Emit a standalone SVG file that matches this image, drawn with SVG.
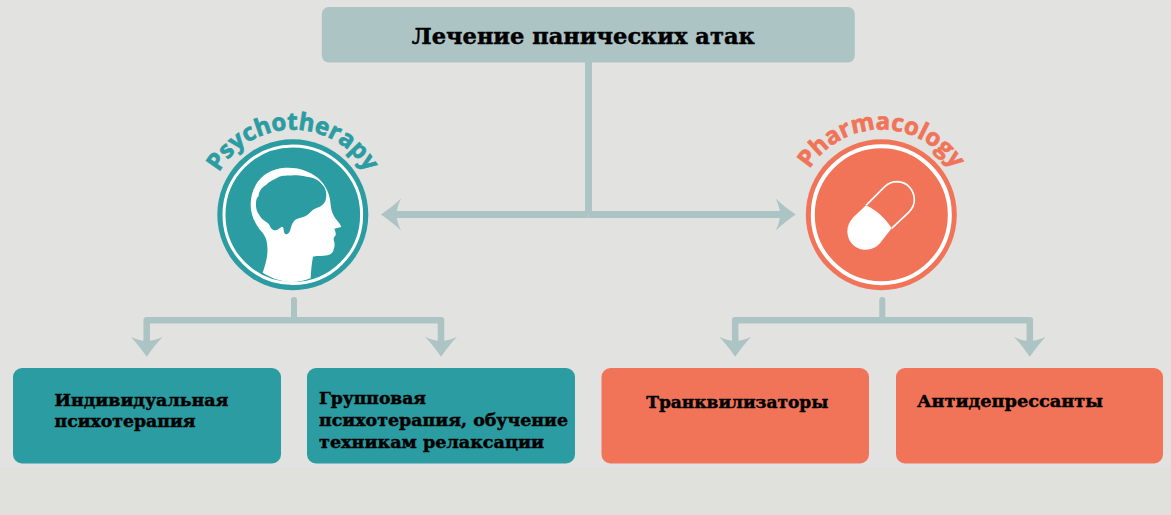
<svg xmlns="http://www.w3.org/2000/svg" width="1171" height="515" viewBox="0 0 1171 515">
<style>
.t{font-family:"DejaVu Serif","Liberation Serif",serif;font-weight:700;fill:#000;stroke:#000;stroke-width:.45px}
.l{font-family:"Open Sans","Liberation Sans",sans-serif;font-weight:700;font-size:24px;stroke-width:.7px}
.c{fill:none;stroke:#adc4c4;stroke-linejoin:round}
.teal{fill:#2a9ca2}.coral{fill:#f17459}
.lt{stroke:#2a9ca2}.lc{stroke:#f17459}
.w{fill:#fff}
</style>
<defs>
<marker id="arrow" markerUnits="userSpaceOnUse" markerWidth="22" markerHeight="34" refX="6" refY="16" orient="auto" overflow="visible">
<path d="M20 16C13 11 6 6 0 0C2 4 4 9 4.500 16C4 23 2 28 0 32C6 26 13 21 20 16Z" fill="#adc4c4"/>
</marker>
<path id="arcL" d="M207.800 214.700A85 85 0 0 1 377.800 214.700"/>
<path id="arcR" d="M796.300 214.700A85 85 0 0 1 966.300 214.700"/>
</defs>
<rect width="1171" height="515" fill="#e2e2e0"/>
<rect y="468" width="1171" height="47" fill="#e0e0dc"/>
<g id="connectors">
<path class="c" stroke-width="7" d="M588.500 60V214.500"/>
<path class="c" stroke-width="7" d="M588.500 214.500H395" marker-end="url(#arrow)"/>
<path class="c" stroke-width="7" d="M588.500 214.500H781.700" marker-end="url(#arrow)"/>
<path class="c" stroke-width="6" stroke-linecap="round" d="M294 300V320"/>
<path class="c" stroke-width="6.500" d="M294 320.300H146.700V342.700" marker-end="url(#arrow)"/>
<path class="c" stroke-width="6.500" d="M294 320.300H441V342.700" marker-end="url(#arrow)"/>
<path class="c" stroke-width="6" stroke-linecap="round" d="M882.300 300V320"/>
<path class="c" stroke-width="6.500" d="M882.300 320.300H735.200V342.700" marker-end="url(#arrow)"/>
<path class="c" stroke-width="6.500" d="M882.300 320.300H1029.800V342.700" marker-end="url(#arrow)"/>
</g>
<g id="root">
<rect x="321.800" y="7" width="533" height="55.500" rx="7" fill="#adc4c4"/>
<text class="t" x="411.800" y="43.500" font-size="22" textLength="343" lengthAdjust="spacingAndGlyphs">Лечение панических атак</text>
</g>
<g id="psychotherapy">
<circle class="teal" cx="292.800" cy="214.700" r="75.500"/>
<circle cx="292.800" cy="214.700" r="68.800" fill="none" stroke="#fff" stroke-width="3"/>
<text class="l teal lt"><textPath href="#arcL" startOffset="50%" text-anchor="middle">Psychotherapy</textPath></text>
<g transform="translate(190 100) scale(.33333)">
<path class="w" d="M218 518C228 490 234 465 232 440C231 420 226 408 215 395C195 372 182 345 182 315C182 280 195 248 222 226C248 207 270 203 295 203C325 203 358 212 385 235C410 258 420 285 422 315C423 330 428 342 436 355C444 366 452 374 454 381L433 386C436 393 438 400 437 406C433 410 431 414 431 420C434 428 435 436 432 445C430 457 424 464 412 466C398 469 382 467 369 470C365 490 363 515 362 535C345 542 325 546 308 546C275 546 245 535 218 518Z"/>
<path class="teal" d="M198 315C198 300 200 293 206 288C206 275 215 262 228 255C236 245 252 238 262 233C275 225 295 228 310 226C325 224 345 228 360 232C375 234 392 246 400 258C410 270 411 290 406 303C402 312 395 318 385 322C372 326 365 333 358 340C348 352 330 352 315 360C306 368 304 380 300 392C296 403 287 406 283 398C280 390 282 380 276 380C268 384 260 394 250 390C240 385 240 372 232 368C222 362 212 354 208 345C200 335 198 325 198 315Z"/>
</g>
</g>
<g id="pharmacology">
<circle class="coral" cx="881.300" cy="214.700" r="75.500"/>
<circle cx="881.300" cy="214.700" r="68.500" fill="none" stroke="#fff" stroke-width="4"/>
<text class="l coral lc"><textPath href="#arcR" startOffset="50%" text-anchor="middle">Pharmacology</textPath></text>
<g transform="translate(780 100) scale(.33333)">
<path class="w" d="M258 316C290 330 315 355 335 385L300 430C283 447 268 450 252 449C225 447 203 425 202 395C202 378 208 365 220 352Z"/>
<path d="M258 316L312 262C325 249 340 245 352 245C382 246 403 270 403 300C403 315 396 327 386 337L335 385" fill="none" stroke="#fff" stroke-width="5"/>
</g>
</g>
<g id="box1">
<rect class="teal" x="13" y="368" width="268" height="95.500" rx="9"/>
<text class="t" x="54.500" y="406" font-size="17" textLength="174" lengthAdjust="spacingAndGlyphs">Индивидуальная</text>
<text class="t" x="54.500" y="427" font-size="17" textLength="141" lengthAdjust="spacingAndGlyphs">психотерапия</text>
</g>
<g id="box2">
<rect class="teal" x="307" y="368" width="268" height="95.500" rx="9"/>
<text class="t" x="319" y="404" font-size="17" textLength="107" lengthAdjust="spacingAndGlyphs">Групповая</text>
<text class="t" x="319" y="426" font-size="17" textLength="249" lengthAdjust="spacingAndGlyphs">психотерапия, обучение</text>
<text class="t" x="319" y="448" font-size="17" textLength="225" lengthAdjust="spacingAndGlyphs">техникам релаксации</text>
</g>
<g id="box3">
<rect class="coral" x="601.500" y="368" width="267.500" height="95.500" rx="9"/>
<text class="t" x="646.300" y="408" font-size="17" textLength="182" lengthAdjust="spacingAndGlyphs">Транквилизаторы</text>
</g>
<g id="box4">
<rect class="coral" x="896" y="368" width="267" height="95.500" rx="9"/>
<text class="t" x="917" y="407" font-size="17" textLength="186" lengthAdjust="spacingAndGlyphs">Антидепрессанты</text>
</g>
</svg>
